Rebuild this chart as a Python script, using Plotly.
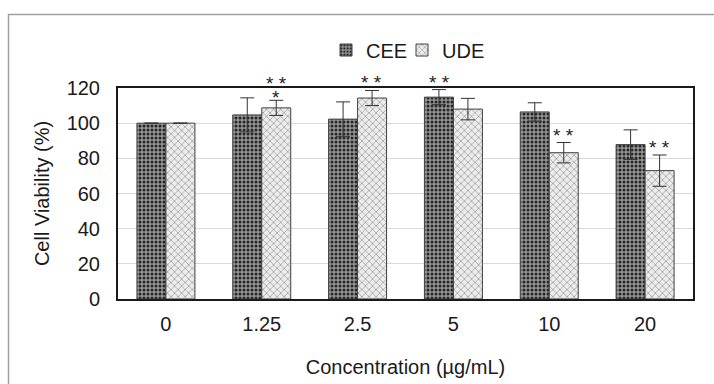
import plotly.graph_objects as go

categories = ["0", "1.25", "2.5", "5", "10", "20"]
cee_values = [100, 104.7, 102.3, 114.8, 106.4, 87.8]
cee_errors = [0, 9.7, 9.8, 4.3, 5.2, 8.4]
ude_values = [100, 108.7, 114.3, 108.0, 83.2, 73.0]
ude_errors = [0, 4.3, 4.3, 6.1, 5.8, 8.9]
y_ticks = [0, 20, 40, 60, 80, 100, 120]

# significance labels above each bar (two rows possible)
cee_sig = ["", "", "", "* *", "", ""]
ude_sig = ["", "*", "* *", "", "* *", "* *"]
ude_sig_upper = ["", "* *", "", "", "", ""]

FONT = "Liberation Sans, Arial, sans-serif"

fig = go.Figure()
fig.add_trace(go.Bar(
    name="CEE", x=categories, y=cee_values, legend="legend",
    error_y=dict(type="data", array=cee_errors, color="#333333", thickness=1, width=7),
    marker=dict(color="#8a8a8a", line=dict(color="#404040", width=1),
                pattern=dict(shape=".", bgcolor="#969696", fgcolor="#262626",
                             size=4, solidity=0.45, fillmode="replace")),
))
fig.add_trace(go.Bar(
    name="UDE", x=categories, y=ude_values, legend="legend2",
    error_y=dict(type="data", array=ude_errors, color="#333333", thickness=1, width=7),
    marker=dict(color="#d0d0d0", line=dict(color="#404040", width=1),
                pattern=dict(shape="x", bgcolor="#ececec", fgcolor="#959595",
                             size=5, solidity=0.25, fillmode="replace")),
))

def add_sig(labels, values, errors, offset, lift):
    for i, lab in enumerate(labels):
        if not lab:
            continue
        fig.add_annotation(x=i + offset, y=values[i] + errors[i], xref="x", yref="y",
                           text=lab, showarrow=False, yanchor="middle", yshift=lift,
                           font=dict(size=19, color="#222222", family=FONT))

add_sig(cee_sig, cee_values, cee_errors, -0.15, 7.5)
add_sig([s if s == "*" else "" for s in ude_sig], ude_values, ude_errors, 0.15, 3)
add_sig([s if s != "*" else "" for s in ude_sig], ude_values, ude_errors, 0.15, 7.5)
add_sig(ude_sig_upper, ude_values, ude_errors, 0.15, 16.5)

# outer light border of the figure
fig.add_shape(type="rect", xref="paper", yref="paper",
              x0=(8.5 - 118) / 575, x1=(720 - 118) / 575,
              y0=(299 - 400) / 211, y1=(299 - 14.5) / 211,
              line=dict(color="#a0a0a0", width=1.5), layer="below")

legend_common = dict(orientation="h", xanchor="left", y=1.18, yanchor="middle",
                     font=dict(size=20), itemwidth=30, bgcolor="rgba(0,0,0,0)")

fig.update_layout(
    width=714, height=384,
    margin=dict(l=118, r=21, t=88, b=85),
    paper_bgcolor="white", plot_bgcolor="white",
    barmode="group", bargap=0.395, bargroupgap=0,
    font=dict(family=FONT, size=20, color="#1a1a1a"),
    showlegend=True,
    legend=dict(x=(326 - 118) / 575, **legend_common),
    legend2=dict(x=(402 - 118) / 575, **legend_common),
    xaxis=dict(
        type="category", showline=True, linecolor="#1a1a1a", linewidth=2, mirror=True,
        ticks="", ticklabelstandoff=6, automargin=False,
        title=dict(text="Concentration (µg/mL)", standoff=26, font=dict(size=20)),
    ),
    yaxis=dict(
        range=[0, 120], tickvals=y_ticks, showline=True, linecolor="#1a1a1a", linewidth=2,
        mirror=True, showgrid=True, gridcolor="#d9d9d9", gridwidth=1, zeroline=False,
        ticks="", ticklabelstandoff=12, automargin=False,
        title=dict(text="Cell Viability (%)", standoff=12, font=dict(size=20)),
    ),
)

fig.write_html("out.html", config={"displayModeBar": False},
               post_script="document.body.style.margin='0';document.body.style.overflow='hidden';")
